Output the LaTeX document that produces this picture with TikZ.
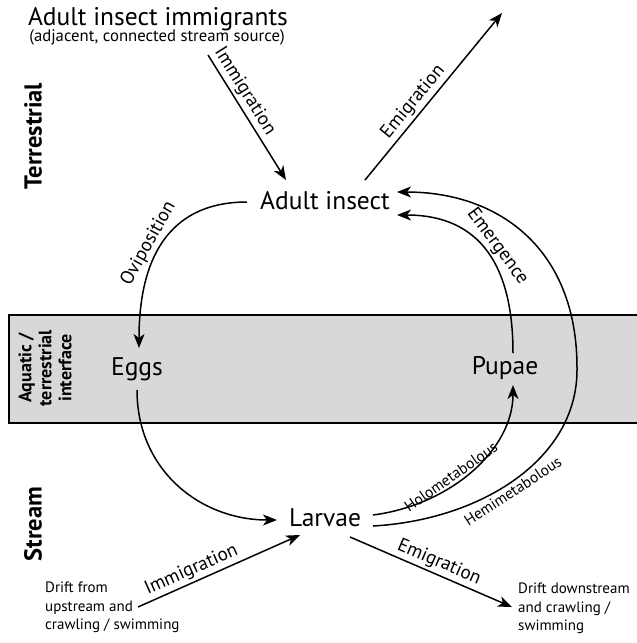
\documentclass[tikz,border=0pt]{standalone}
\usepackage{fontspec}
\setmainfont{PT Sans}
\usetikzlibrary{arrows.meta}
\definecolor{bandgray}{RGB}{216,216,216}
\begin{document}
\begin{tikzpicture}[x=1pt,y=-1pt,
  arr/.style={line width=1.5pt,-{Stealth[length=14pt,width=11pt,inset=4pt]}},
  lab/.style={font=\fontsize{19}{19}\selectfont, inner sep=2.5pt},
  smalllab/.style={font=\fontsize{15.5}{15.5}\selectfont, inner sep=2pt},
  stage/.style={font=\fontsize{25.5}{25.5}\selectfont, inner sep=0pt},
  zone/.style={font=\bfseries\fontsize{24.5}{24.5}\selectfont, rotate=90, inner sep=0pt},
  drift/.style={font=\fontsize{15}{18.5}\selectfont, align=left, inner sep=0pt, anchor=north west},
]
\useasboundingbox (0,0) rectangle (637,643);
% interface band
\draw[line width=1.3pt, fill=bandgray] (645,315) -- (9,315) -- (9,423) -- (645,423);

% zone labels
\node[zone] (terr) at (33,136) {Terrestrial};
\node[zone] (strm) at (33,524) {Stream};
\node[zone, font=\bfseries\fontsize{18}{20}\selectfont, align=center] (iface) at (45,368) {Aquatic /\\terrestrial\\interface};

% titles
\node[font=\fontsize{25.5}{25.5}\selectfont, anchor=base, inner sep=0pt] (imm) at (158,25) {Adult insect immigrants};
\node[font=\fontsize{16.7}{16.7}\selectfont, anchor=base, inner sep=0pt] (immsrc) at (157,41) {(adjacent, connected stream source)};

% stages
\node[stage] (adult) at (325,201) {Adult insect};
\node[stage] (eggs) at (137,369) {Eggs};
\node[stage] (pupae) at (505,368) {Pupae};
\node[stage] (larvae) at (325,518) {Larvae};

% drift texts
\node[drift] (driftL) at (45,582) {Drift from\\upstream and\\crawling / swimming};
\node[drift] (driftR) at (518,583) {Drift downstream\\and crawling /\\swimming};

\coordinate (immstart) at (208,55);
\coordinate (emiend) at (502,13);

% terrestrial immigration / emigration
\draw[arr] (immstart) -- node[lab, sloped, above, pos=0.34] {Immigration} ([shift={(-39,-21)}]adult.center);
\draw[arr] ([shift={(40,-21)}]adult.center) -- node[lab, sloped, above, pos=0.42] {Emigration} (emiend);

% oviposition
\draw[arr] ([shift={(-78,1)}]adult.center) .. controls (175,202) and (139,250) ..
  node[lab, sloped, above, pos=0.57] {Oviposition} ([shift={(2,-21)}]eggs.center);

% eggs -> larvae
\draw[arr] ([shift={(0,21)}]eggs.center) .. controls (137,470) and (200,520) .. ([shift={(-48,2)}]larvae.center);

% holometabolous
\draw[arr] ([shift={(48,-3)}]larvae.center) .. controls (450,505) and (513,450) ..
  node[smalllab, sloped, above, pos=0.4] {Holometabolous} ([shift={(8,17)}]pupae.center);

% emergence
\draw[arr] ([shift={(8,-15)}]pupae.center) .. controls (513,280) and (490,215) ..
  node[lab, sloped, above, pos=0.52] {Emergence} ([shift={(72,14)}]adult.center);

% hemimetabolous
\draw[arr] ([shift={(48,8)}]larvae.center) .. controls (480,520) and (577,460) ..
  node[smalllab, sloped, below, pos=0.47] {Hemimetabolous} (577,370)
  .. controls (578,250) and (500,192) .. ([shift={(72,-9)}]adult.center);

% stream immigration / emigration
\draw[arr] ([shift={(93,25)}]driftL.north west) -- node[lab, sloped, above, pos=0.36] {Immigration} ([shift={(-25,17)}]larvae.center);
\draw[arr] ([shift={(25,19)}]larvae.center) -- node[lab, sloped, above, pos=0.52] {Emigration} ([shift={(-6,24)}]driftR.north west);
\end{tikzpicture}
\end{document}
